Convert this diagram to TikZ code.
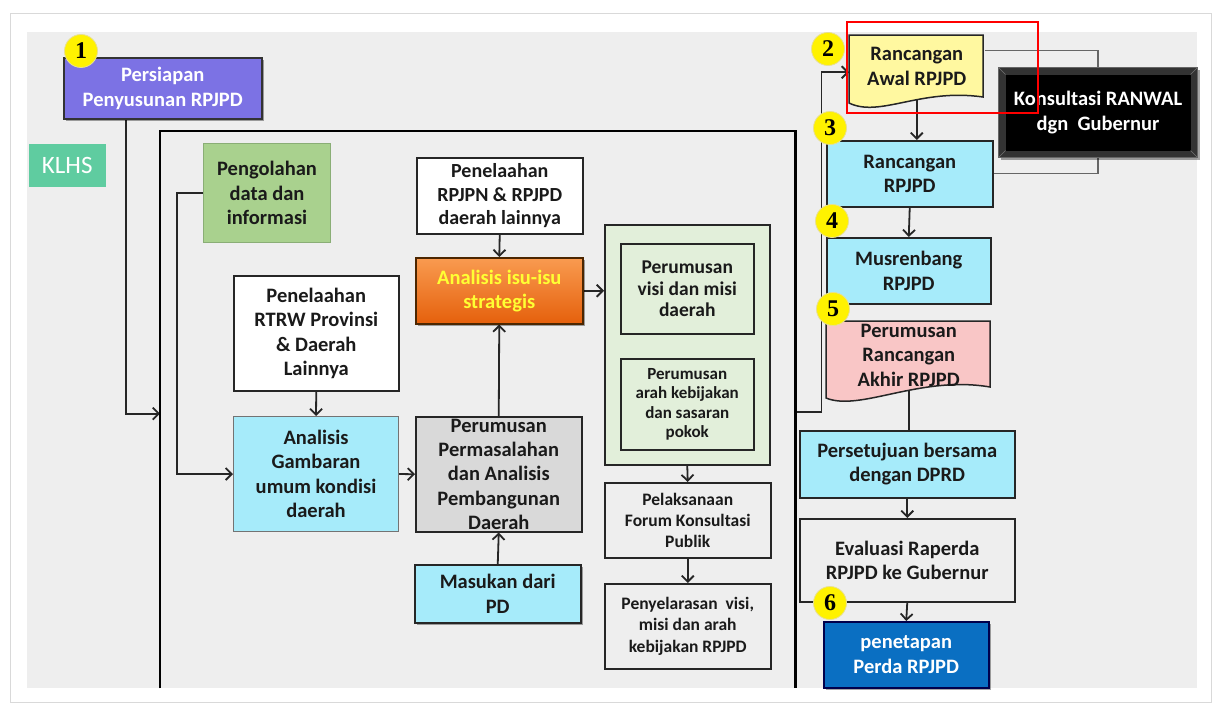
\documentclass[tikz,border=0pt]{standalone}
\usepackage{fontspec}
\setmainfont{Carlito}
\newfontfamily\numfont{Liberation Serif}
\usetikzlibrary{arrows.meta,calc,shadows}
\pgfdeclarelayer{back}\pgfdeclarelayer{bg}\pgfdeclarelayer{mid}
\pgfsetlayers{back,bg,mid,main}
\definecolor{panel}{HTML}{EEEEEE}
\definecolor{purp}{HTML}{7C72E4}
\definecolor{klhs}{HTML}{5FCCA0}
\definecolor{greenbox}{HTML}{A9D18E}
\definecolor{greenedge}{HTML}{8AAE76}
\definecolor{cyanbox}{HTML}{A6EBFA}
\definecolor{graybox}{HTML}{D9D9D9}
\definecolor{lgreen}{HTML}{E2EFDA}
\definecolor{docyellow}{HTML}{FFF8A0}
\definecolor{docpink}{HTML}{F9C6C6}
\definecolor{blueb}{HTML}{0A6FC2}
\definecolor{orangeA}{HTML}{F99B50}
\definecolor{orangeB}{HTML}{E5600C}
\definecolor{isuyellow}{HTML}{FFFF33}
\definecolor{numyellow}{HTML}{FFF200}
\definecolor{numedge}{HTML}{E8E090}
\definecolor{txt}{HTML}{1A1A1A}
\definecolor{boxline}{HTML}{262626}
\definecolor{lineclr}{HTML}{262626}
\newcommand\fsz[2]{\fontsize{#1}{#2}\selectfont}
\begin{document}
\begin{tikzpicture}[x=1pt,y=-1pt,
  box/.style={draw=boxline, line width=1.5pt, align=center, inner sep=0pt, anchor=north west, text=txt, font=\fsz{20.5}{24.4}\bfseries},
  conn/.style={draw=lineclr, line width=1.8pt, -{Straight Barb[length=6pt,width=12pt]}},
  plain/.style={draw=lineclr, line width=1.8pt},
  thinline/.style={draw=black!60, line width=1.2pt},
  num/.style={circle, fill=numyellow, draw=numedge, line width=0.8pt, minimum size=33pt, inner sep=0pt, text=black, font=\numfont\bfseries\fsz{24}{24}},
  shad/.style={drop shadow={shadow xshift=2pt, shadow yshift=-2pt, opacity=0.35, fill=black}},
  docshape/.style={draw=boxline, line width=1.5pt}]
\useasboundingbox (0,0) rectangle (1213,704);
\begin{pgfonlayer}{back}
\fill[white] (0,0) rectangle (1213,704);
\draw[black!15, line width=1pt] (10,13) rectangle (1211,702);
\fill[panel] (27,32) rectangle (1197,688);
\end{pgfonlayer}

% left part
\node[box, draw=black!80, fill=purp, text=white, minimum width=198pt, minimum height=61pt, shad] (persiapan) at (63,57) {Persiapan\\Penyusunan RPJPD};
\node[box, draw=none, fill=klhs, text=white, minimum width=77pt, minimum height=43pt, font=\fsz{25}{28}] (klhs) at (28,143) {KLHS};
\node[anchor=north west, minimum width=635pt, minimum height=557pt, inner sep=0pt] (bigrect) at (160,131) {};
\draw[black, line width=2.8pt] (bigrect.south west) -- (bigrect.north west) -- (bigrect.north east) -- (bigrect.south east);

\node[box, draw=greenedge, line width=1pt, fill=greenbox, minimum width=127pt, minimum height=99pt] (pengolahan) at (203,143) {Pengolahan\\data dan\\informasi};
\node[box, fill=white, minimum width=166pt, minimum height=76pt, font=\fsz{20}{23.5}\bfseries] (rpjpn) at (416,157) {Penelaahan\\RPJPN \& RPJPD\\daerah lainnya};
\node[box, draw=black!70!orange, top color=orangeA, bottom color=orangeB, text=isuyellow, minimum width=167pt, minimum height=66pt, shad] (isu) at (415,257) {Analisis isu-isu\\strategis};
\node[box, fill=white, minimum width=165pt, minimum height=115pt] (rtrw) at (233,275) {Penelaahan\\RTRW Provinsi\\\& Daerah\\Lainnya};
\node[box, draw=black!55, line width=1pt, fill=cyanbox, minimum width=165pt, minimum height=115pt] (gambaran) at (233,416) {Analisis\\Gambaran\\umum kondisi\\daerah};
\node[box, fill=graybox, minimum width=166pt, minimum height=115pt] (permasalahan) at (415,416) {Perumusan\\Permasalahan\\dan Analisis\\Pembangunan\\Daerah};
\node[box, fill=cyanbox, minimum width=166pt, minimum height=58pt, shad] (masukan) at (414,564) {Masukan dari\\PD};

\node[box, fill=lgreen, minimum width=165pt, minimum height=240pt] (container) at (604,224) {};
\node[box, fill=lgreen, minimum width=133pt, minimum height=90pt, font=\fsz{19.5}{21.7}\bfseries] (visi) at (620,243) {Perumusan\\visi dan misi\\daerah};
\node[box, fill=lgreen, minimum width=133pt, minimum height=91pt, font=\fsz{17}{19.5}\bfseries] (arah) at (620,358) {Perumusan\\arah kebijakan\\dan sasaran\\pokok};
\node[box, fill=panel, minimum width=166pt, minimum height=75pt, font=\fsz{17.5}{21}\bfseries] (forum) at (604,482) {Pelaksanaan\\Forum Konsultasi\\Publik};
\node[box, fill=panel, minimum width=166pt, minimum height=85pt, font=\fsz{17.5}{21.5}\bfseries] (penyelarasan) at (604,583) {Penyelarasan\ \ visi,\\misi dan arah\\kebijakan RPJPD};

% right part
\node[box, draw=none, minimum width=134pt, minimum height=61pt] (ranwal) at (849,35) {Rancangan\\Awal RPJPD};
\node[box, draw=black!60, line width=1pt, fill=black!80, text=white, minimum width=199pt, minimum height=90pt, shad,
  path picture={
    \fill[black] ([shift={(7pt,-7pt)}]path picture bounding box.north west) rectangle ([shift={(-7pt,7pt)}]path picture bounding box.south east);
    \draw[black!55, line width=0.6pt] (path picture bounding box.north west) -- ++(7pt,-7pt);
    \draw[black!55, line width=0.6pt] (path picture bounding box.north east) -- ++(-7pt,-7pt);
    \draw[black!55, line width=0.6pt] (path picture bounding box.south west) -- ++(7pt,7pt);
    \draw[black!55, line width=0.6pt] (path picture bounding box.south east) -- ++(-7pt,7pt);
  }] (konsultasi) at (998,67) {Konsultasi RANWAL\\dgn\ \ Gubernur};
\node[box, fill=cyanbox, minimum width=166pt, minimum height=66pt] (rancangan) at (826,140) {Rancangan\\RPJPD};
\node[box, fill=cyanbox, minimum width=164pt, minimum height=66pt] (musrenbang) at (826,237) {Musrenbang\\RPJPD};
\node[box, draw=none, minimum width=164pt, minimum height=67pt] (akhir) at (826,321) {Perumusan\\Rancangan\\Akhir RPJPD};
\node[box, fill=cyanbox, minimum width=215pt, minimum height=67pt] (persetujuan) at (799,430) {Persetujuan bersama\\dengan DPRD};
\node[box, fill=panel, minimum width=215pt, minimum height=83pt] (evaluasi) at (799,518) {Evaluasi Raperda\\RPJPD ke Gubernur};
\node[box, draw=black!70!blue, fill=blueb, text=white, minimum width=165pt, minimum height=66pt, shad] (penetapan) at (823,621) {penetapan\\Perda RPJPD};

% document shapes
\begin{pgfonlayer}{mid}
\filldraw[docshape, fill=docyellow] (849,35) -- (983,35) -- (983,97) .. controls (920,88) and (880,118) .. (849,103) -- cycle;
\filldraw[docshape, fill=docpink] (826,321) -- (990,321) -- (990,387) .. controls (920,375) and (860,412) .. (826,398) -- cycle;
\end{pgfonlayer}

% numbers
\node[num] (n1) at (81,51) {1};
\node[num] (n2) at (828,49) {2};
\node[num] (n3) at (830,128) {3};
\node[num] (n4) at (832,221) {4};
\node[num] (n5) at (833,309) {5};
\node[num] (n6) at (830,603) {6};

% connectors
\begin{pgfonlayer}{bg}
\draw[conn] ($(persiapan.south west)+(63,0)$) |- ([yshift=-4pt]bigrect.west);
\draw[conn] (pengolahan.west) -- ++(-26,0) |- (gambaran.west);
\draw[conn] (rtrw.south) -- (gambaran.north);
\draw[conn] (gambaran.east) -- (permasalahan.west);
\draw[conn] (masukan.north) -- (permasalahan.south);
\draw[conn] (permasalahan.north) -- (isu.south);
\draw[conn] (rpjpn.south) -- (isu.north);
\draw[conn] (isu.east) -- (isu.east -| container.west);
\draw[conn] (visi.south) -- (arah.north);
\draw[conn] (container.south) -- (forum.north);
\draw[conn] (forum.south) -- (penyelarasan.north);
\draw[conn] ([yshift=-2pt]bigrect.east) -- ++(26,0) |- ([yshift=-6pt]ranwal.west);
\draw[conn] (ranwal.south) -- (ranwal.south |- rancangan.north);
\draw[thinline] ([yshift=16pt]ranwal.east) -| (konsultasi.north);
\draw[thinline] (konsultasi.south) |- (rancangan.east);
\draw[conn] (rancangan.south) -- (musrenbang.north);
\draw[plain] (akhir.south) -- (akhir.south |- persetujuan.north);
\draw[conn] (persetujuan.south) -- (evaluasi.north);
\draw[conn] (evaluasi.south) -- (penetapan.north);
\end{pgfonlayer}

\draw[red, line width=2pt] (847,22) rectangle (1038,113);
\end{tikzpicture}
\end{document}
